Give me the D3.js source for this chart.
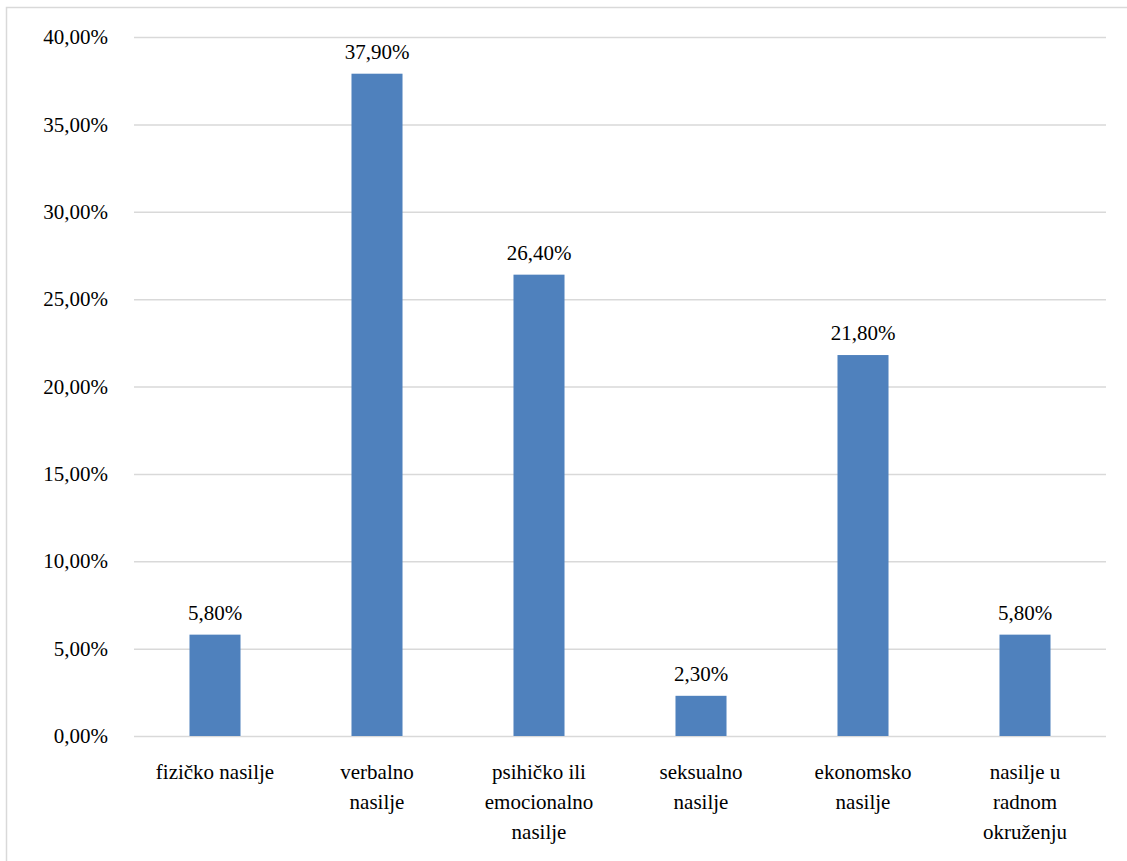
<!DOCTYPE html>
<html><head><meta charset="utf-8">
<script src="https://cdn.jsdelivr.net/npm/d3@7"></script>
<style>body{margin:0;background:#fff}</style>
</head><body>
<svg id="chart" width="1127" height="861"></svg>
<script>
const categories = [["fizičko nasilje"],["verbalno","nasilje"],["psihičko ili","emocionalno","nasilje"],["seksualno","nasilje"],["ekonomsko","nasilje"],["nasilje u","radnom","okruženju"]];
const values = [5.8, 37.9, 26.4, 2.3, 21.8, 5.8];
const yTicks = [0,5,10,15,20,25,30,35,40];

const svg=d3.select("#chart");
svg.append("rect").attr("x",6.5).attr("y",7.5).attr("width",1125).attr("height",900).attr("fill","none").attr("stroke","#d9d9d9").attr("stroke-width",1.5);
const x=d3.scaleBand().domain(d3.range(values.length)).range([134,1106]).padding(0);
const y=d3.scaleLinear().domain([0,40]).range([736,37]);
const fmt=v=>v.toFixed(2).replace(".",",")+"%";

const g=svg.append("g").attr("font-family","Liberation Serif").attr("font-size",21);

const yAxis=d3.axisLeft(y).tickValues(yTicks).tickSize(-(1106-134)).tickFormat(fmt).tickPadding(26);
const ga=g.append("g").attr("transform","translate(134,0)").call(yAxis);
ga.attr("font-family","Liberation Serif").attr("font-size",21);
ga.select(".domain").remove();
ga.selectAll(".tick line").attr("stroke","#d9d9d9").attr("stroke-width",1.5);
ga.selectAll(".tick text").attr("fill","#000");

const bw=x.bandwidth()*0.315;
g.selectAll("rect.bar").data(values).join("rect").attr("class","bar")
 .attr("x",(d,i)=>x(i)+x.bandwidth()/2-bw/2).attr("width",bw)
 .attr("y",d=>y(d)).attr("height",d=>y(0)-y(d)).attr("fill","#4f81bd");

g.selectAll("text.lbl").data(values).join("text").attr("class","lbl")
 .attr("x",(d,i)=>x(i)+x.bandwidth()/2).attr("y",d=>y(d)-15)
 .attr("text-anchor","middle").text(fmt);

categories.forEach((lines,i)=>{
  const t=g.append("text").attr("text-anchor","middle");
  lines.forEach((l,j)=>t.append("tspan").attr("x",x(i)+x.bandwidth()/2).attr("y",779+j*30).text(l));
});
</script>
</body></html>
